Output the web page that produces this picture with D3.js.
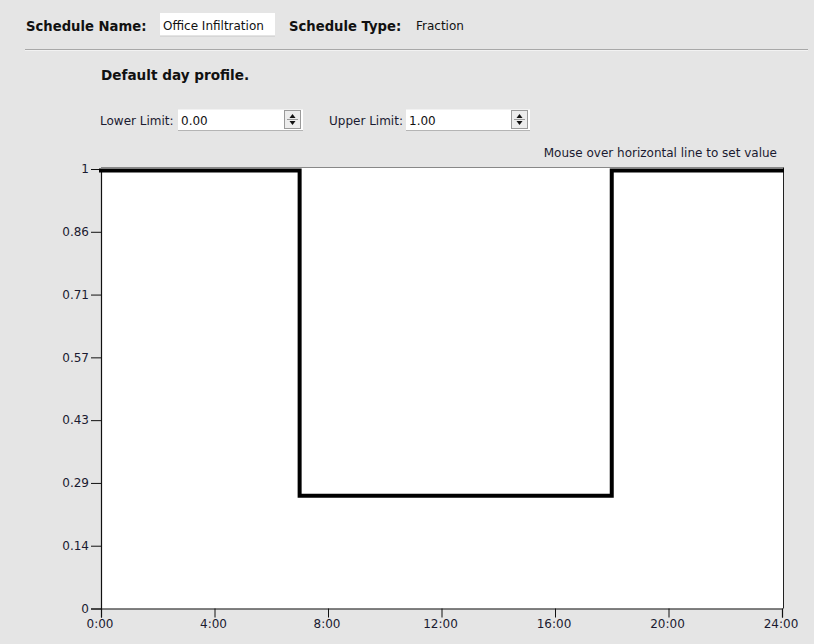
<!DOCTYPE html>
<html>
<head>
<meta charset="utf-8">
<script src="https://cdn.jsdelivr.net/npm/d3@7"></script>
<style>
  html, body { margin: 0; padding: 0; background: #e5e5e5; }
  svg { display: block; }
</style>
</head>
<body>
<svg id="chart" width="814" height="644"></svg>
<script>
// ---- data ----
const scheduleName = "Office Infiltration";
const scheduleType = "Fraction";
const lowerLimit = "0.00";
const upperLimit = "1.00";
const hours = [0, 7, 18, 24];
const values = [1, 0.26, 1, 1];
const yTickValues = [0, 1/7, 2/7, 3/7, 4/7, 5/7, 6/7, 1];
const xTickValues = [0, 4, 8, 12, 16, 20, 24];

const svg = d3.select("#chart");
const font = "DejaVu Sans, Verdana, sans-serif";
const fsBold = 13.2, fs = 12;

// ---- header ----
svg.append("text").attr("x", 26).attr("y", 31)
  .attr("font-family", font).attr("font-weight", "bold").attr("font-size", fsBold)
  .attr("fill", "#111").text("Schedule Name:");
svg.append("rect").attr("x", 160).attr("y", 13).attr("width", 115).attr("height", 23)
  .attr("fill", "#fff");
svg.append("line").attr("x1", 160).attr("x2", 275).attr("y1", 36).attr("y2", 36)
  .attr("stroke", "#c8c8c8");
svg.append("text").attr("x", 163).attr("y", 30)
  .attr("font-family", font).attr("font-size", fs).attr("fill", "#111").text(scheduleName);
svg.append("text").attr("x", 289).attr("y", 31)
  .attr("font-family", font).attr("font-weight", "bold").attr("font-size", fsBold)
  .attr("fill", "#111").text("Schedule Type:");
svg.append("text").attr("x", 416).attr("y", 30)
  .attr("font-family", font).attr("font-size", fs).attr("fill", "#111").text(scheduleType);
svg.append("line").attr("x1", 25).attr("x2", 808).attr("y1", 49.5).attr("y2", 49.5)
  .attr("stroke", "#a8a8a8");
svg.append("line").attr("x1", 25).attr("x2", 808).attr("y1", 50.5).attr("y2", 50.5)
  .attr("stroke", "#f2f2f2");

svg.append("text").attr("x", 101).attr("y", 80)
  .attr("font-family", font).attr("font-weight", "bold").attr("font-size", 13.6)
  .attr("fill", "#111").text("Default day profile.");

// ---- limit inputs ----
function limitBox(labelX, boxX, boxW, label, val) {
  svg.append("text").attr("x", labelX).attr("y", 125)
    .attr("font-family", font).attr("font-size", fs).attr("fill", "#1a1a30").text(label);
  svg.append("rect").attr("x", boxX).attr("y", 109.5).attr("width", boxW).attr("height", 21)
    .attr("fill", "#fff");
  svg.append("line").attr("x1", boxX).attr("x2", boxX + boxW).attr("y1", 130.5).attr("y2", 130.5)
    .attr("stroke", "#b4b4b4");
  svg.append("text").attr("x", boxX + 3).attr("y", 125)
    .attr("font-family", font).attr("font-size", fs).attr("fill", "#111").text(val);
  const sx = boxX + boxW - 19;
  svg.append("rect").attr("x", sx + 0.5).attr("y", 110.5).attr("width", 16).attr("height", 18)
    .attr("fill", "#ececec").attr("stroke", "#9a9a9a");
  svg.append("line").attr("x1", sx + 3).attr("x2", sx + 14).attr("y1", 119.5).attr("y2", 119.5)
    .attr("stroke", "#9a9a9a");
  svg.append("path").attr("d", `M${sx + 5.5},118 L${sx + 11.5},118 L${sx + 8.5},114 Z`).attr("fill", "#111");
  svg.append("path").attr("d", `M${sx + 5.5},121 L${sx + 11.5},121 L${sx + 8.5},125 Z`).attr("fill", "#111");
}
limitBox(100, 178, 125, "Lower Limit:", lowerLimit);
limitBox(329, 406, 124, "Upper Limit:", upperLimit);

svg.append("text").attr("x", 777).attr("y", 157).attr("text-anchor", "end")
  .attr("font-family", font).attr("font-size", fs).attr("fill", "#1a1a30")
  .text("Mouse over horizontal line to set value");

// ---- plot ----
const x = d3.scaleLinear().domain([0, 24]).range([101, 782]);
const y = d3.scaleLinear().domain([0, 1]).range([608.5, 169]);

svg.append("rect").attr("x", x(0)).attr("y", y(1) - 1)
  .attr("width", x(24) - x(0) + 1).attr("height", y(0) - y(1) + 1)
  .attr("fill", "#fff");
svg.append("line").attr("x1", x(0)).attr("x2", x(24) + 1.5).attr("y1", y(1) - 1.5).attr("y2", y(1) - 1.5)
  .attr("stroke", "#888");
svg.append("line").attr("x1", x(24) + 1.5).attr("x2", x(24) + 1.5).attr("y1", y(1) - 1.5).attr("y2", y(0))
  .attr("stroke", "#222");

const fmtTime = d => d + ":00";
const fmtY = d => {
  if (Math.abs(d) < 1e-9) return "0";
  if (Math.abs(d - 1) < 1e-9) return "1";
  return (Math.round(d * 100) / 100).toString();
};

const yAxis = svg.append("g").attr("transform", `translate(${x(0)},0)`)
  .call(d3.axisLeft(y).tickValues(yTickValues).tickFormat(fmtY).tickSize(10).tickPadding(2));
const xAxis = svg.append("g").attr("transform", `translate(0,${y(0)})`)
  .call(d3.axisBottom(x).tickValues(xTickValues).tickFormat(fmtTime).tickSize(9).tickPadding(2));
[yAxis, xAxis].forEach(a => {
  a.select(".domain").attr("stroke", "#111").attr("stroke-width", 1.2);
  a.selectAll(".tick line").attr("stroke", "#111");
  a.selectAll("text").attr("font-family", font).attr("font-size", fs).attr("fill", "#1a1a30");
});
xAxis.selectAll("text").attr("dx", -1.5);

const line = d3.line().x(d => x(d[0])).y(d => y(d[1]) + 1.5).curve(d3.curveStepAfter);
svg.append("path").datum(hours.map((h, i) => [h, values[i]]))
  .attr("d", line).attr("fill", "none").attr("stroke", "#000").attr("stroke-width", 4)
  .attr("stroke-linejoin", "miter").attr("stroke-linecap", "square");
</script>
</body>
</html>
